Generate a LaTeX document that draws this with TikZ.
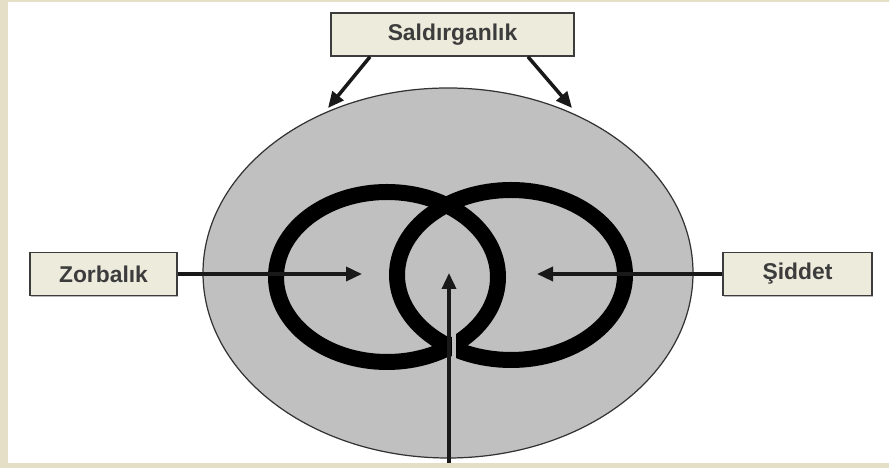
\documentclass[tikz,border=0pt]{standalone}
\usepackage{fontspec}
\setmainfont{Liberation Sans}
\usepackage{xcolor}
\usetikzlibrary{arrows.meta,positioning,shadows}

\definecolor{paper}{HTML}{E6DFC8}
\definecolor{boxfill}{HTML}{EDEBDC}
\definecolor{disc}{HTML}{C0C0C0}
\definecolor{ink}{HTML}{3C3C3C}

\begin{document}
\begin{tikzpicture}[
  label box/.style={draw=ink,fill=boxfill,line width=0.9pt,minimum height=0.86cm,inner sep=0pt,
    font=\fontsize{13}{15}\selectfont\bfseries,text=ink,
    drop shadow={shadow xshift=0.8pt,shadow yshift=-0.8pt,fill=black!55}},
  arr/.style={-{Triangle[length=3.2mm,width=2.8mm]},line width=2pt,black!90},
  ring/.style={draw=black,line width=0.32cm}
]

% Frame
\fill[paper] (0,0) rectangle (17.78,9.36);
\fill[white] (0.16,0.10) rectangle (17.78,9.32);
\useasboundingbox (0,0) rectangle (17.78,9.36);

% Disc and rings
\draw[fill=disc,draw=black!80,line width=0.7pt] (8.96,3.90) ellipse [x radius=4.90cm,y radius=3.70cm];
\draw[ring] (7.74,3.82) ellipse [x radius=2.22cm,y radius=1.70cm];
\draw[ring] (10.22,3.86) ellipse [x radius=2.28cm,y radius=1.70cm];
\draw[disc,line width=0.09cm] (9.08,1.75) -- (9.08,2.75);

% Boxes
\node[label box,minimum width=4.86cm] (sald) at (9.05,8.67) {Saldırganlık};
\node[label box,minimum width=2.94cm] (zorb) at (2.07,3.88) {Zorbalık};
\node[label box,minimum width=2.98cm] (sidd) at (15.95,3.88) {Şiddet};

% Arrow ends
\coordinate (rimL) at (6.56,7.20);
\coordinate (rimR) at (11.44,7.20);
\coordinate (tipZ) at (7.24,3.88);
\coordinate (tipS) at (10.74,3.88);
\coordinate (core) at (8.98,3.90);
\coordinate (foot) at (8.98,0.10);

% Arrows
\draw[arr] ([xshift=-1.65cm]sald.south) -- (rimL);
\draw[arr] ([xshift=1.51cm]sald.south) -- (rimR);
\draw[arr] (zorb.east) -- (tipZ);
\draw[arr] (sidd.west) -- (tipS);
\draw[arr] (foot) -- (core);

\end{tikzpicture}
\end{document}
